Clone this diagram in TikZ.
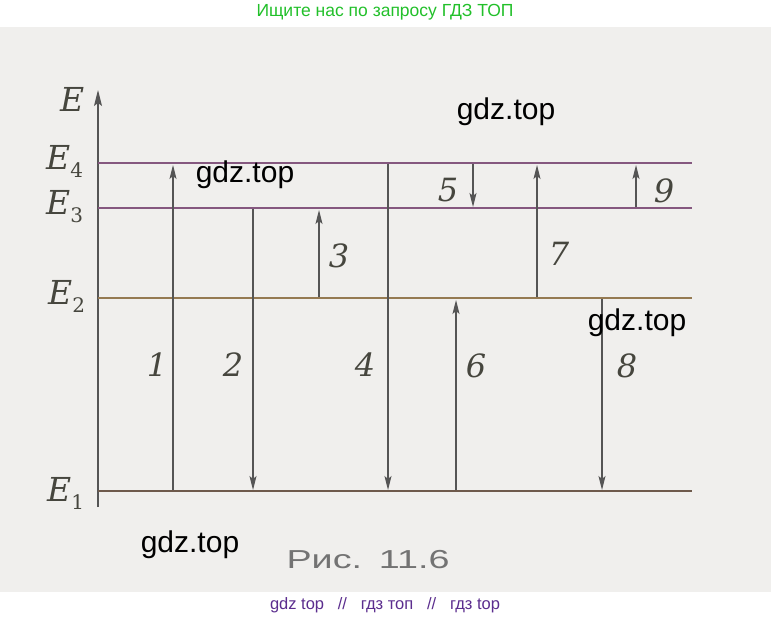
\documentclass[tikz,border=0pt]{standalone}
\usepackage{fontspec}
\usetikzlibrary{arrows.meta}
\newfontfamily\wmfont{Liberation Sans}
\newfontfamily\lblfont{DejaVu Serif}
\definecolor{paper}{HTML}{F0EFED}
\definecolor{lvlhi}{HTML}{85587F}
\definecolor{lvlmid}{HTML}{957A52}
\definecolor{lvllo}{HTML}{6E5A4C}
\definecolor{ink}{HTML}{555555}
\definecolor{lblink}{HTML}{46463E}
\definecolor{hdrgreen}{HTML}{22C02A}
\definecolor{ftrpurple}{HTML}{5B2D8E}
\newcommand{\lvllabel}[1]{{\itshape E}\raisebox{-8pt}{\fontsize{20}{20}\selectfont\upshape #1}}
\tikzset{
  level/.style={line width=2.6pt},
  trans/.style={draw=ink, line width=1.1pt, -{Stealth[length=14pt,width=7pt,inset=3pt]}},
  numlab/.style={font=\lblfont\fontsize{32}{32}\selectfont\itshape, text=lblink, inner sep=0pt},
  elab/.style={font=\lblfont\fontsize{33}{33}\selectfont, text=lblink, anchor=base west, inner sep=0pt},
  wm/.style={font=\wmfont\fontsize{30}{30}\selectfont, text=black, inner sep=0pt},
}
\begin{document}
\begin{tikzpicture}[x=1pt,y=-1pt]
\useasboundingbox (0,0) rectangle (771,620);
\fill[white] (0,0) rectangle (771,620);
\fill[paper] (0,27) rectangle (771,592);
% header / footer
\node[font=\wmfont\fontsize{17.5}{17.5}\selectfont, text=hdrgreen] (hdr) at (385,12) {Ищите нас по запросу ГДЗ ТОП};
\node[font=\wmfont\fontsize{16.5}{16.5}\selectfont, text=ftrpurple] (ftr) at (385,605) {gdz top\ \ \ //\ \ \ гдз топ\ \ \ //\ \ \ гдз top};
% axis
\coordinate (ax0) at (98,507);
\coordinate (ax1) at (98,90);
\draw[draw=ink, line width=1.3pt, -{Stealth[length=16pt,width=8pt,inset=3pt]}] (ax0) -- (ax1);
\node[elab] (Elab) at (60,112) {\itshape E};
% levels
\coordinate (l4a) at (98,163); \coordinate (l4b) at (692,163);
\coordinate (l3a) at (98,208); \coordinate (l3b) at (692,208);
\coordinate (l2a) at (98,298); \coordinate (l2b) at (692,298);
\coordinate (l1a) at (98,491); \coordinate (l1b) at (692,491);
\draw[level, draw=lvlhi] (l4a) -- (l4b);
\draw[level, draw=lvlhi] (l3a) -- (l3b);
\draw[level, draw=lvlmid] (l2a) -- (l2b);
\draw[level, draw=lvllo] (l1a) -- (l1b);
\node[elab] (E4) at (46,170) {\lvllabel{4}};
\node[elab] (E3) at (46,215) {\lvllabel{3}};
\node[elab] (E2) at (48,305) {\lvllabel{2}};
\node[elab] (E1) at (47,501) {\lvllabel{1}};
% transitions
\coordinate (t1a) at (173,490); \coordinate (t1b) at (173,165);
\coordinate (t2a) at (253,209); \coordinate (t2b) at (253,490);
\coordinate (t3a) at (319,297); \coordinate (t3b) at (319,210);
\coordinate (t4a) at (388,164); \coordinate (t4b) at (388,490);
\coordinate (t5a) at (473,164); \coordinate (t5b) at (473,207);
\coordinate (t6a) at (456,490); \coordinate (t6b) at (456,300);
\coordinate (t7a) at (537,297); \coordinate (t7b) at (537,165);
\coordinate (t8a) at (602,299); \coordinate (t8b) at (602,490);
\coordinate (t9a) at (636,207); \coordinate (t9b) at (636,165);
\draw[trans] (t1a) -- (t1b);
\draw[trans] (t2a) -- (t2b);
\draw[trans] (t3a) -- (t3b);
\draw[trans] (t4a) -- (t4b);
\draw[trans] (t5a) -- (t5b);
\draw[trans] (t6a) -- (t6b);
\draw[trans] (t7a) -- (t7b);
\draw[trans] (t8a) -- (t8b);
\draw[trans] (t9a) -- (t9b);
\node[numlab] (n1) at (157,365) {1};
\node[numlab] (n2) at (233,365) {2};
\node[numlab] (n3) at (339,256) {3};
\node[numlab] (n4) at (365,365) {4};
\node[numlab] (n5) at (448,190) {5};
\node[numlab] (n6) at (476,366) {6};
\node[numlab] (n7) at (559,254) {7};
\node[numlab] (n8) at (627,366) {8};
\node[numlab] (n9) at (664,191) {9};
% caption
\node[font=\wmfont\fontsize{26}{26}\selectfont, text=black!55] (cap) at (368,560) {\scalebox{1.45}[1]{Рис.\,\ 11.6}};
% watermarks
\node[wm] (w1) at (506,112) {gdz.top};
\node[wm] (w2) at (245,175) {gdz.top};
\node[wm] (w3) at (637,323) {gdz.top};
\node[wm] (w4) at (190,545) {gdz.top};
\end{tikzpicture}
\end{document}
